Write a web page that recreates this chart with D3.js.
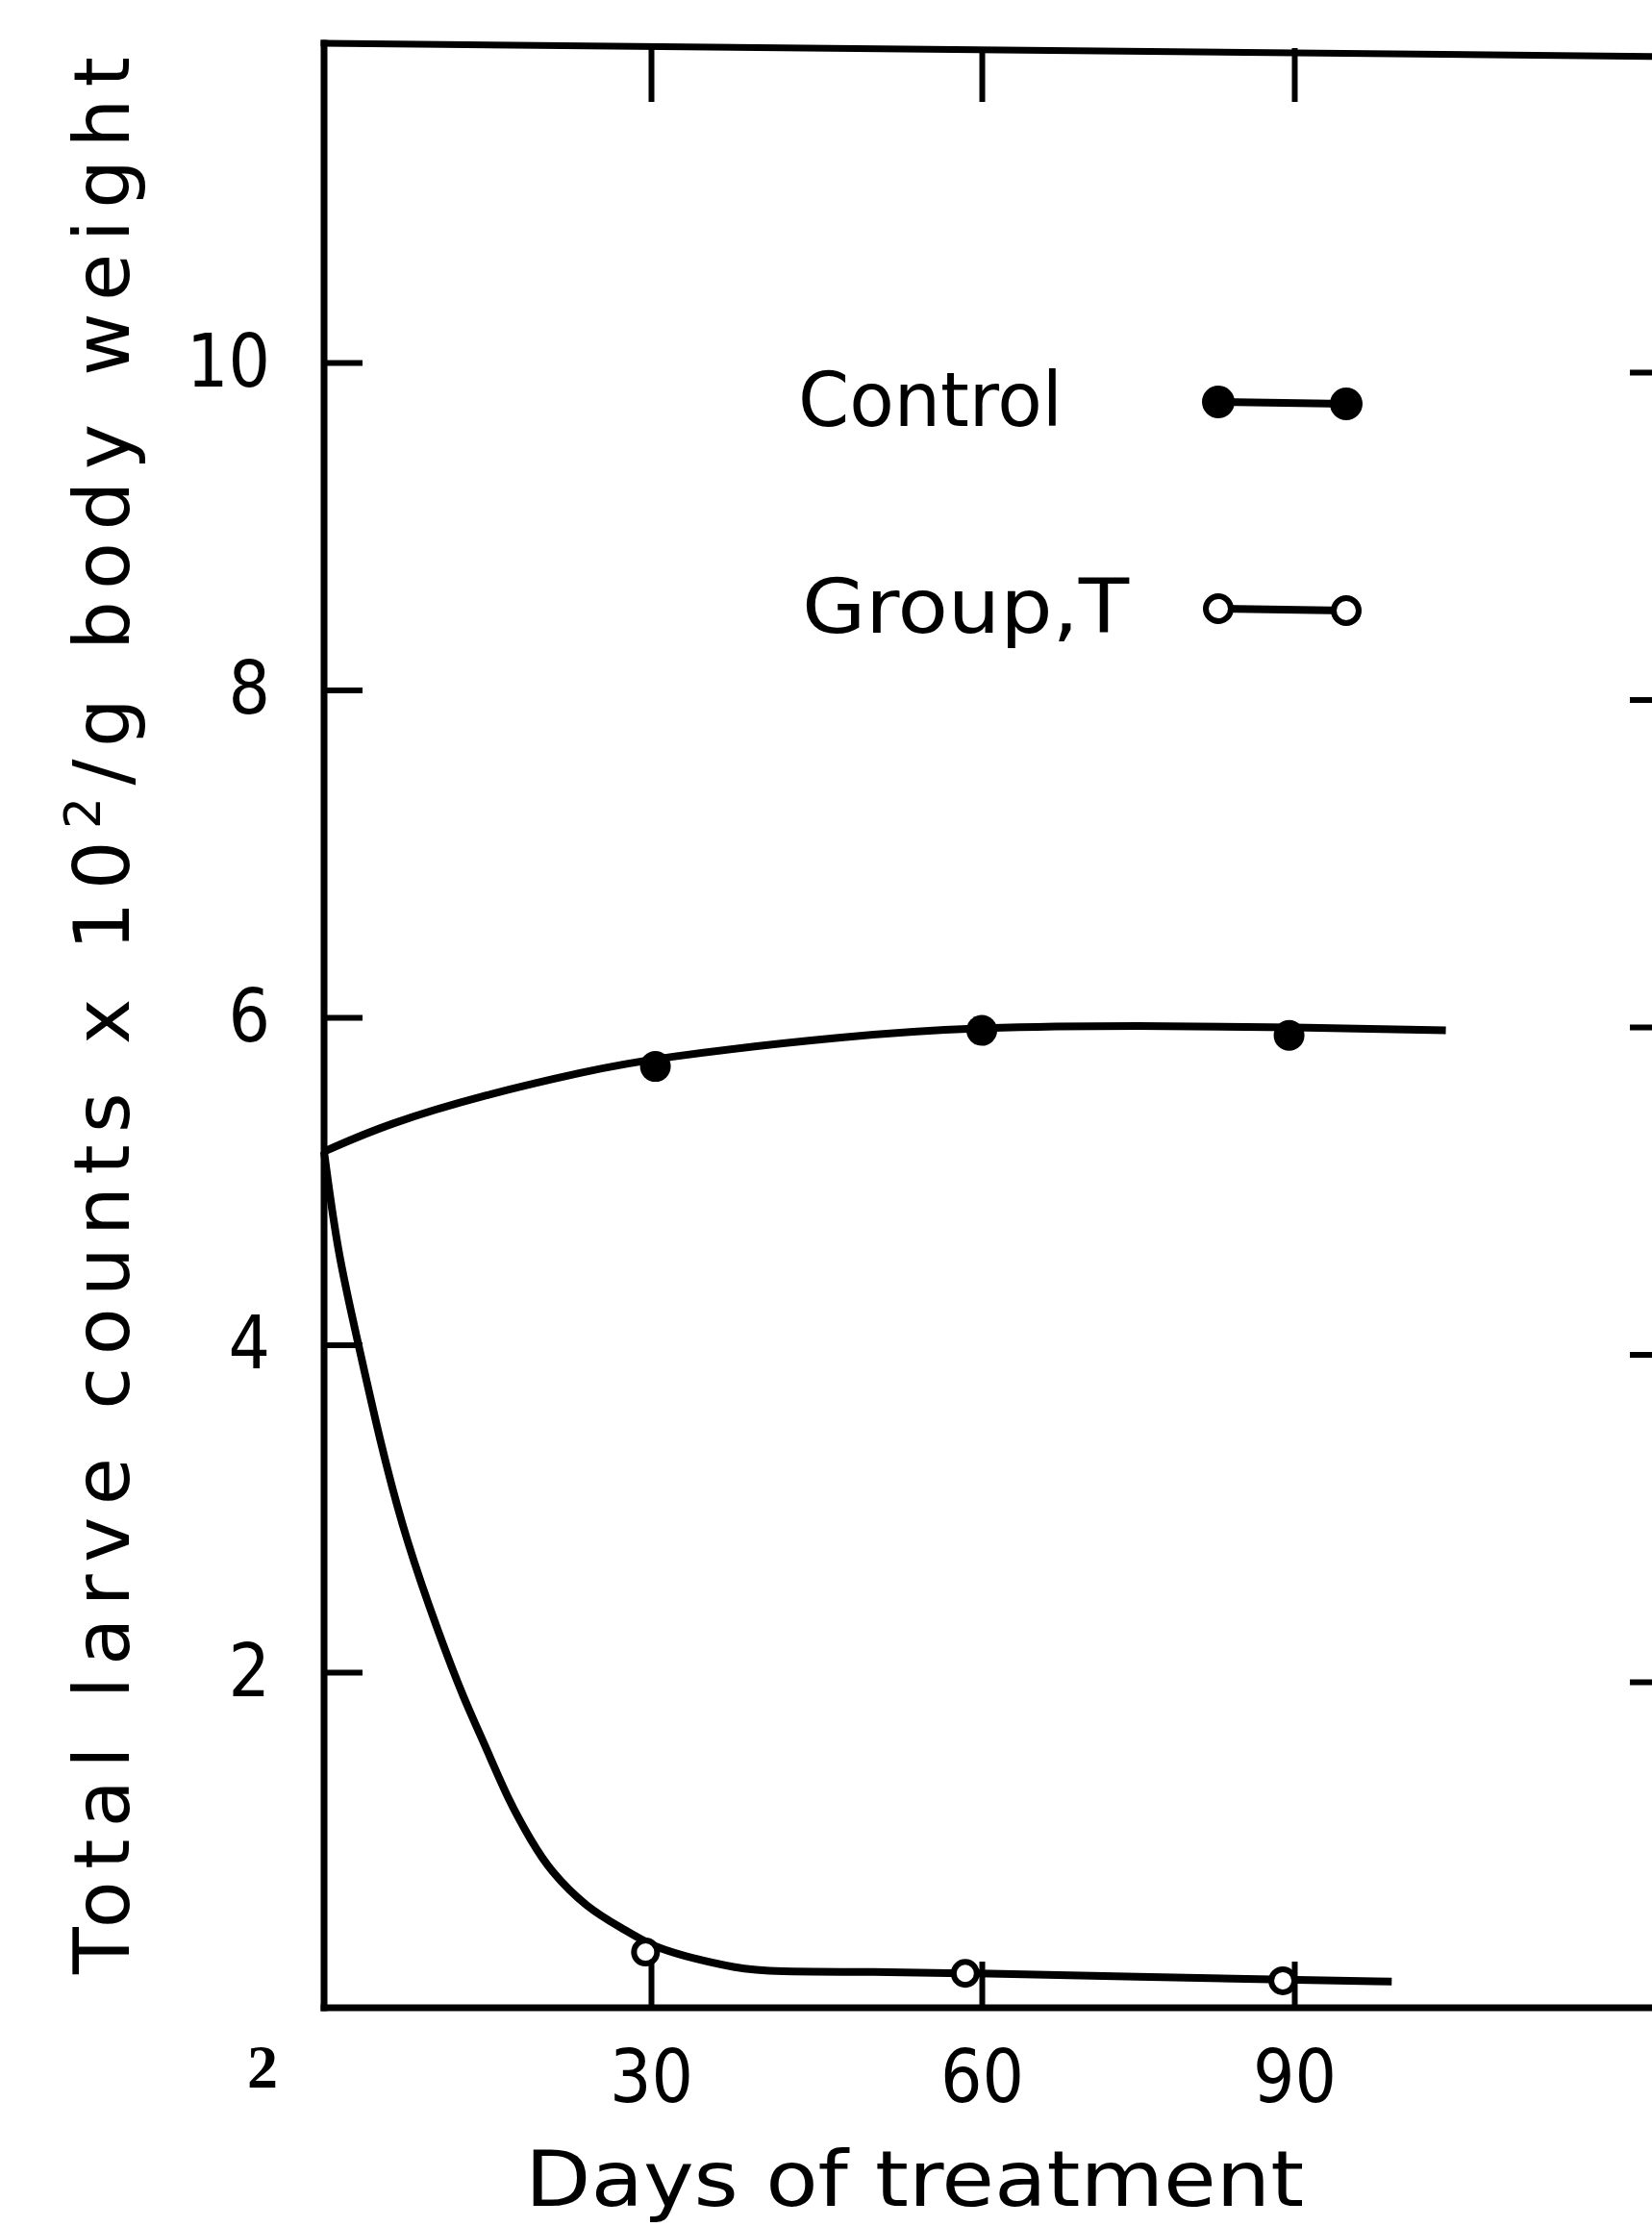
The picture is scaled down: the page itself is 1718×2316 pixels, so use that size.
<!DOCTYPE html>
<html>
<head>
<meta charset="utf-8">
<script src="https://cdn.jsdelivr.net/npm/d3@7"></script>
<style>
  html, body { margin: 0; padding: 0; background: #fff; }
  svg { display: block; }
</style>
</head>
<body>
<div id="chart"></div>
<script>
// measured points (days, larvae x 10^2 / g)
const controlDays = [30.4, 60, 89.5];
const controlValues = [5.70, 5.92, 5.89];
const groupTDays = [29.5, 58.5, 88.9];
const groupTValues = [0.29, 0.16, 0.115];

// hand drawn fitted curves
const controlCurveDays = [0, 5.8, 14.9, 24, 30, 48, 60, 75, 90, 104];
const controlCurveValues = [5.18, 5.35, 5.53, 5.67, 5.75, 5.89, 5.94, 5.95, 5.94, 5.92];
const groupTCurveDays = [0, 1.25, 3.0, 5.3, 7.6, 10.5, 12.8, 14.8, 16.9, 19.0, 20.7, 24.1, 27.5, 30, 32.7, 37.8, 41, 50, 60, 75, 90, 99];
const groupTCurveValues = [5.18, 4.56, 4.05, 3.36, 2.79, 2.24, 1.84, 1.55, 1.22, 0.97, 0.79, 0.56, 0.43, 0.33, 0.27, 0.19, 0.17, 0.17, 0.16, 0.14, 0.12, 0.11];

const yTicks = [2, 4, 6, 8, 10];
const xTicks = [30, 60, 90];
const legendLabels = ["Control", "Group,T"];

const width = 1718, height = 2316;

const svg = d3.select("#chart").append("svg")
  .attr("width", width)
  .attr("height", height)
  .style("background", "#fff");

// the hand drawn day axis is not quite even, so map it piece by piece
const x = d3.scaleLinear().domain([0, 30, 60, 90, 125]).range([337, 677, 1021, 1346, 1740]);
const y = d3.scaleLinear().domain([-0.05, 11.95]).range([2088, 45]);

const numFont = "'DejaVu Sans Condensed', 'Liberation Sans Narrow', 'DejaVu Sans', sans-serif";

// frame (top edge is drawn a little askew in the original)
const frame = svg.append("g")
  .attr("fill", "none")
  .attr("stroke", "#000")
  .attr("stroke-width", 7)
  .attr("stroke-linecap", "square");
frame.append("line").attr("x1", x(0)).attr("x2", x(0)).attr("y1", y(11.95)).attr("y2", y(-0.05));
frame.append("line").attr("x1", x(0)).attr("x2", x(125)).attr("y1", y(-0.05)).attr("y2", y(-0.05));
frame.append("line").attr("x1", x(0)).attr("x2", x(125)).attr("y1", y(11.95)).attr("y2", y(11.95) + 14);

// left axis, ticks pointing in
const leftAxis = svg.append("g")
  .attr("transform", `translate(${x(0)},0)`)
  .call(d3.axisLeft(y).tickValues(yTicks).tickSize(-40).tickPadding(56).tickFormat(d3.format("d")));

// right axis, ticks only
const rightAxis = svg.append("g")
  .attr("transform", `translate(${x(125)},10)`)
  .call(d3.axisRight(y).tickValues(yTicks).tickSize(-45).tickFormat(""));

// top ticks
const topAxis = svg.append("g")
  .attr("transform", `translate(0,${y(11.95) + 5})`)
  .call(d3.axisTop(x).tickValues(xTicks).tickSize(-56).tickFormat(""));

// bottom axis
const bottomAxis = svg.append("g")
  .attr("transform", `translate(0,${y(-0.05)})`)
  .call(d3.axisBottom(x).tickValues(xTicks).tickSize(-48).tickPadding(44).tickFormat(d3.format("d")));

[leftAxis, rightAxis, topAxis, bottomAxis].forEach(g => {
  g.select(".domain").remove();
  g.selectAll(".tick line").attr("stroke", "#000").attr("stroke-width", 6);
  g.selectAll(".tick text")
    .attr("fill", "#000")
    .style("font-family", numFont)
    .style("font-size", "76px");
});

// stray label under the origin
svg.append("text")
  .attr("x", 273)
  .attr("y", 2171)
  .attr("text-anchor", "middle")
  .style("font-family", "'Liberation Serif', 'DejaVu Serif', serif")
  .style("font-weight", "bold")
  .style("font-size", "64px")
  .text("2");

// curves
const line = d3.line()
  .x(d => x(d[0]))
  .y(d => y(d[1]))
  .curve(d3.curveBasis);

svg.append("path")
  .datum(d3.zip(controlCurveDays, controlCurveValues))
  .attr("d", line)
  .attr("fill", "none")
  .attr("stroke", "#000")
  .attr("stroke-width", 8);

svg.append("path")
  .datum(d3.zip(groupTCurveDays, groupTCurveValues))
  .attr("d", line)
  .attr("fill", "none")
  .attr("stroke", "#000")
  .attr("stroke-width", 8);

// markers
svg.selectAll("circle.control")
  .data(d3.zip(controlDays, controlValues))
  .join("circle")
  .attr("class", "control")
  .attr("cx", d => x(d[0]))
  .attr("cy", d => y(d[1]))
  .attr("r", 16)
  .attr("fill", "#000");

svg.selectAll("circle.groupT")
  .data(d3.zip(groupTDays, groupTValues))
  .join("circle")
  .attr("class", "groupT")
  .attr("cx", d => x(d[0]))
  .attr("cy", d => y(d[1]))
  .attr("r", 12)
  .attr("fill", "#fff")
  .attr("stroke", "#000")
  .attr("stroke-width", 6);

// legend
const legend = svg.append("g");
const legendRows = [
  { label: legendLabels[0], y: 418, filled: true, tx: 830, tlen: 275 },
  { label: legendLabels[1], y: 633, filled: false, tx: 834, tlen: 340 }
];
legendRows.forEach(r => {
  legend.append("text")
    .attr("x", r.tx)
    .attr("y", r.y + 25)
    .attr("textLength", r.tlen)
    .attr("lengthAdjust", "spacingAndGlyphs")
    .style("font-family", numFont)
    .style("font-size", "78px")
    .text(r.label);
  legend.append("line")
    .attr("x1", 1267).attr("x2", 1400)
    .attr("y1", r.y).attr("y2", r.y + 2)
    .attr("stroke", "#000")
    .attr("stroke-width", 8);
  [1267, 1400].forEach(cx => {
    legend.append("circle")
      .attr("cx", cx)
      .attr("cy", r.y + (cx === 1400 ? 2 : 0))
      .attr("r", r.filled ? 17 : 13)
      .attr("fill", r.filled ? "#000" : "#fff")
      .attr("stroke", "#000")
      .attr("stroke-width", r.filled ? 0 : 6);
  });
});

// axis titles
svg.append("text")
  .attr("x", 951)
  .attr("y", 2294)
  .attr("text-anchor", "middle")
  .attr("textLength", 810)
  .attr("lengthAdjust", "spacingAndGlyphs")
  .style("font-family", numFont)
  .style("font-size", "80px")
  .text("Days of treatment");

const yTitle = svg.append("text")
  .attr("transform", "translate(134,1056) rotate(-90)")
  .attr("text-anchor", "middle")
  .attr("textLength", 1994)
  .attr("lengthAdjust", "spacing")
  .style("font-family", "'DejaVu Sans', sans-serif")
  .style("font-size", "80px");
yTitle.append("tspan").text("Total  larve  counts  x  10");
yTitle.append("tspan").attr("dy", -30).style("font-size", "52px").text("2");
yTitle.append("tspan").attr("dy", 30).text("/g  body  weight");
</script>
</body>
</html>
